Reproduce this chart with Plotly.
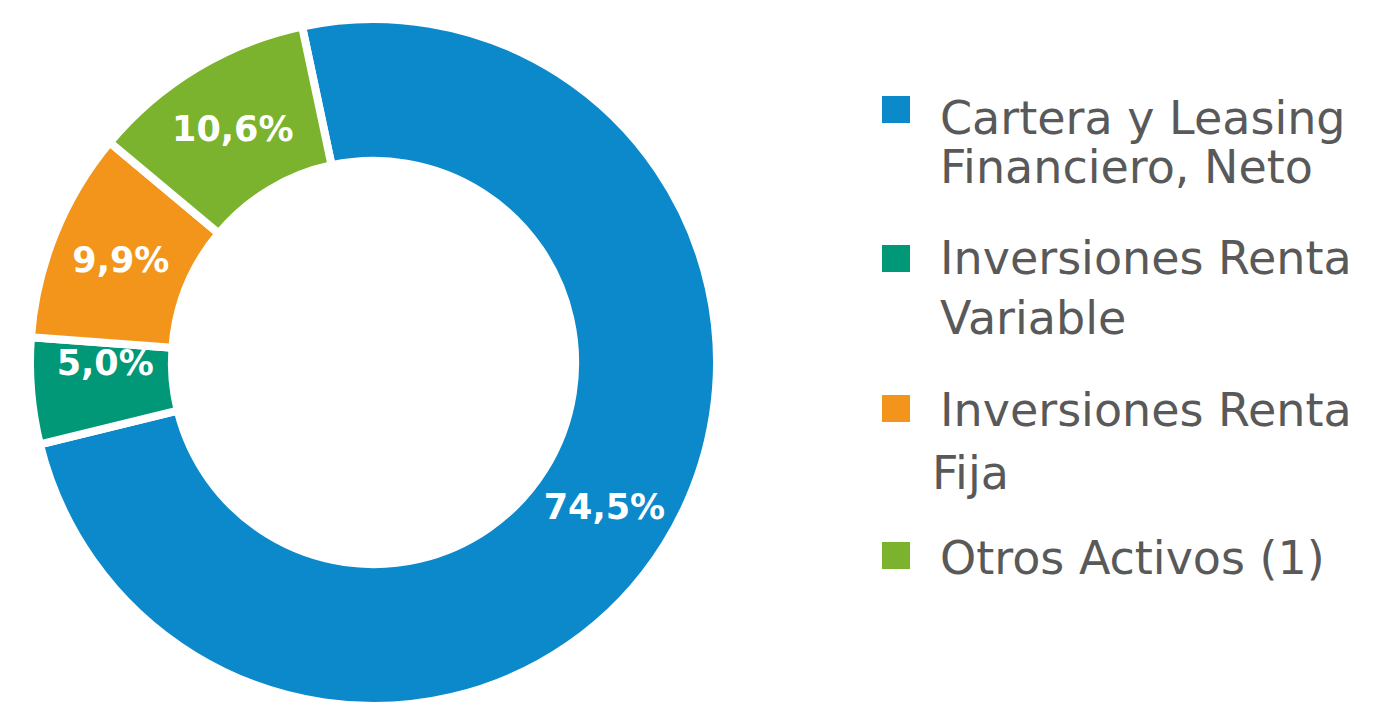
import plotly.graph_objects as go

categories = [
    "Cartera y Leasing<br>Financiero, Neto",
    "Inversiones Renta<br>Variable",
    "Inversiones Renta<br>Fija",
    "Otros Activos (1)",
]
values = [74.5, 5.0, 9.9, 10.6]
colors = ["#0B89CB", "#009877", "#F3951B", "#7BB32E"]

W, H = 1376, 698   # the page body adds an 8px margin around the figure
OFF = 8

# small left padding so the narrow slice's label sits like the reference
text_pad = ["", "\u00a0" * 3, "", ""]

fig = go.Figure(
    go.Pie(
        labels=[c.replace("<br>", " ") for c in categories],
        values=values,
        sort=False,
        direction="clockwise",
        rotation=-12,
        hole=0.587,
        marker=dict(colors=colors, line=dict(color="white", width=8)),
        texttemplate=[p + "%{value:.1f}%" for p in text_pad],
        textposition="inside",
        insidetextorientation="horizontal",
        textfont=dict(family="DejaVu Sans", size=35, color="white", weight="bold"),
        domain=dict(x=[0.01599, 0.51526], y=[0.0, 0.98424]),
        showlegend=False,
        hoverinfo="label+percent",
    )
)

# legend drawn as square keys + text lines (screen px of the reference)
key_tops = [96, 245, 395, 542]
key_size = 27
first_baselines = [133, 273, 425, 573]
line_gap = [49, 60, 63, 49]
FS = 46
shapes, annotations = [], []
for i, (cat, col) in enumerate(zip(categories, colors)):
    top = key_tops[i] - OFF
    shapes.append(dict(
        type="rect", xref="paper", yref="paper",
        x0=(882 - OFF) / W, x1=(882 + 28 - OFF) / W,
        y0=1 - (top + key_size) / H, y1=1 - top / H,
        fillcolor=col, line=dict(width=0),
    ))
    for j, part in enumerate(cat.split("<br>")):
        x_left = 938
        if i == 2 and j == 1:   # "Fija" starts a little further left
            x_left = 929.5
        base = first_baselines[i] + j * line_gap[i]
        ytop = base - 1 - 0.928 * FS - OFF
        annotations.append(dict(
            text=part,
            xref="paper", yref="paper",
            x=(x_left - OFF) / W, y=1 - ytop / H,
            xanchor="left", yanchor="top", align="left",
            showarrow=False,
            font=dict(family="DejaVu Sans", size=FS, color="#595959"),
        ))

fig.update_layout(
    width=W,
    height=H,
    margin=dict(l=0, r=0, t=0, b=0),
    paper_bgcolor="white",
    plot_bgcolor="white",
    separators=",.",
    uniformtext=dict(mode="show", minsize=35),
    shapes=shapes,
    annotations=annotations,
)

fig.write_html("out.html")
